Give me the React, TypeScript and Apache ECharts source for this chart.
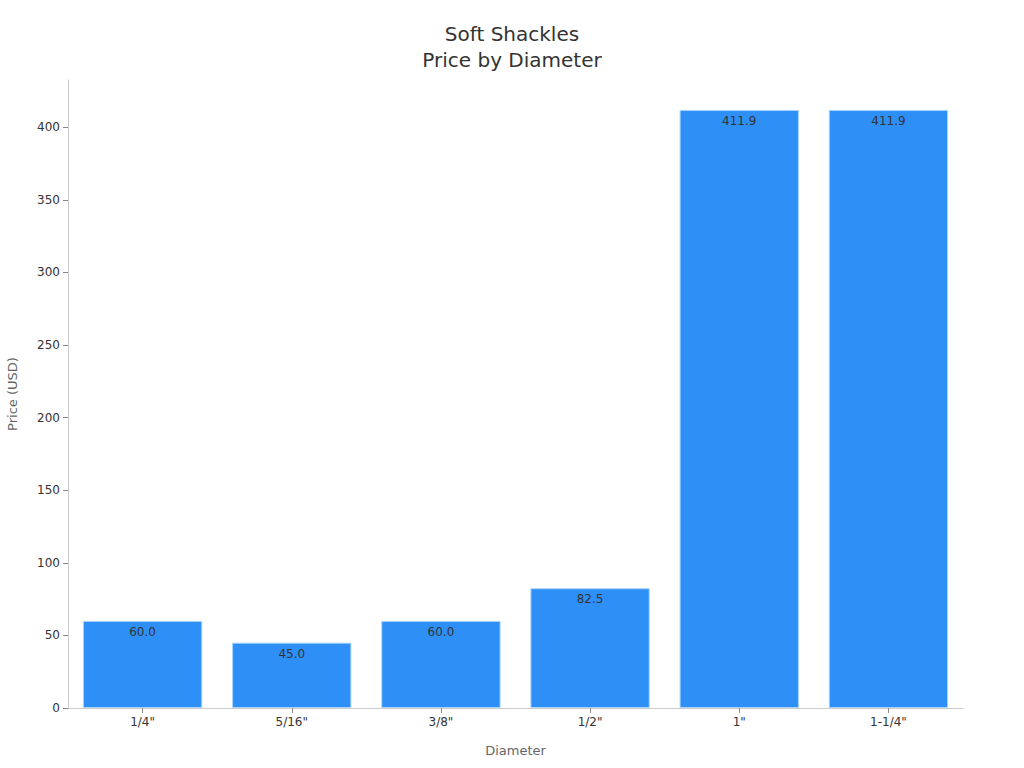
import React, { useEffect, useRef } from "react";
import * as echarts from "echarts";

const categories = ['1/4"', '5/16"', '3/8"', '1/2"', '1"', '1-1/4"'];
const prices = [60.0, 45.0, 60.0, 82.5, 411.9, 411.9];
const yTicks = [0, 50, 100, 150, 200, 250, 300, 350, 400];

const FONT = "DejaVu Sans";

export default function App() {
  const ref = useRef<HTMLDivElement>(null);
  useEffect(() => {
    if (!ref.current) return;
    const chart = echarts.init(ref.current, undefined, { renderer: "svg" });
    chart.setOption({
      animation: false,
      textStyle: { fontFamily: FONT },
      title: {
        text: "Soft Shackles\nPrice by Diameter",
        left: "center",
        top: 16,
        textStyle: { fontFamily: FONT, fontSize: 20, fontWeight: "normal", color: "#333", lineHeight: 26 },
      },
      grid: { left: 68, right: 61, top: 80, bottom: 60, containLabel: false, outerBoundsMode: "none" },
      xAxis: {
        type: "category",
        data: categories,
        name: "Diameter",
        nameLocation: "middle",
        nameGap: 36,
        nameTextStyle: { fontFamily: FONT, fontSize: 13, color: "#666" },
        axisLine: { show: true, lineStyle: { color: "#ccc" } },
        axisTick: { show: true, alignWithLabel: true, length: 5, lineStyle: { color: "#888" } },
        axisLabel: { fontFamily: FONT, fontSize: 12, color: "#333", margin: 8 },
      },
      yAxis: {
        type: "value",
        min: 0,
        max: 432.5,
        interval: 50,
        name: "Price (USD)",
        nameLocation: "middle",
        nameGap: 49,
        nameTextStyle: { fontFamily: FONT, fontSize: 13, color: "#666" },
        axisLine: { show: true, lineStyle: { color: "#ccc" } },
        axisTick: { show: true, length: 5, lineStyle: { color: "#888" } },
        axisLabel: {
          fontFamily: FONT,
          fontSize: 12,
          color: "#333",
          margin: 8,
          showMaxLabel: false,
          formatter: (v: number) => (yTicks.includes(v) ? String(v) : ""),
        },
        splitLine: { show: false },
      },
      series: [
        {
          type: "bar",
          data: prices,
          barCategoryGap: "20%",
          itemStyle: { color: "#2e90f6", borderColor: "#a8d4ff", borderWidth: 1 },
          label: {
            show: true,
            position: "insideTop",
            distance: 5,
            fontFamily: FONT,
            fontSize: 12,
            color: "#333",
            formatter: (p: any) => Number(p.value).toFixed(1),
          },
        },
      ],
    });
    return () => chart.dispose();
  }, []);
  return <div ref={ref} style={{ position: "absolute", left: 0, top: 0, width: 1024, height: 768 }} />;
}
